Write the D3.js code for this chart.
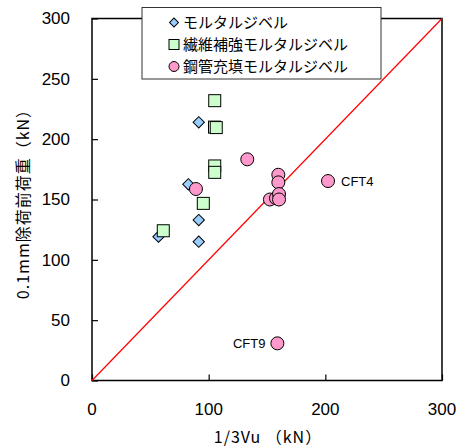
<!DOCTYPE html>
<html>
  <head>
    <meta charset="utf-8">
    <title>Scatter</title>
    <script src="https://d3js.org/d3.v7.min.js"></script>
    <style>
      html, body { margin: 0; padding: 0; background: #fff; overflow: hidden; }
      svg { display: block; }
      .axis .domain { display: none; }
      .axis .tick line { stroke: #000; stroke-width: 1.2px; }
      .tickLabel { font-family: "Liberation Sans", Arial, sans-serif; font-size: 17px; fill: #000; }
      .label { font-family: "Noto Sans CJK JP", sans-serif; font-size: 15px; fill: #000; }
      .title { font-family: "Noto Sans CJK JP", sans-serif; font-size: 16px; fill: #000; }
      .note { font-family: "Liberation Sans", Arial, sans-serif; font-size: 13px; fill: #000; }
    </style>
  </head>
  <body>
    <svg width="462" height="448"></svg>
    <script>
      // values
      const seriesNames = ["モルタルジベル", "繊維補強モルタルジベル", "鋼管充填モルタルジベル"];
      const mortar = [[91.5, 214], [82.6, 162.6], [91.5, 133], [91.5, 115], [57, 119.2]];
      const fiber = [[105.2, 231.9], [105, 210], [106.5, 209.6], [105.2, 177.8], [105.2, 172.5], [95.4, 146.8], [61.1, 124.1]];
      const steel = [[133.1, 183.3], [159.7, 170.5], [159.7, 164.2], [89.1, 158.7],
                     [152.5, 150], [157.7, 151], [160.3, 154.5], [160.3, 150],
                     [202.3, 165.3], [158.9, 30.8]];
      const notes = [{name: "CFT4", x: 202.3, y: 165.3, side: "right"},
                     {name: "CFT9", x: 158.9, y: 30.8, side: "left"}];
      const xTicks = [0, 100, 200, 300];
      const yTicks = [0, 50, 100, 150, 200, 250, 300];

      const margin = {top: 18.5, right: 20, bottom: 67.5, left: 92};
      const svg = d3.select("svg");
      const width = +svg.attr("width");
      const height = +svg.attr("height");
      const innerWidth = width - margin.left - margin.right;
      const innerHeight = height - margin.top - margin.bottom;

      const xScale = d3.scaleLinear().domain([0, 300]).range([0, innerWidth]);
      const yScale = d3.scaleLinear().domain([0, 300]).range([innerHeight, 0]);

      const g = svg.append("g").attr("transform", `translate(${margin.left}, ${margin.top})`);

      // inward ticks
      g.append("g").attr("class", "axis")
        .attr("transform", `translate(0, ${innerHeight})`)
        .call(d3.axisTop(xScale).tickValues(xTicks).tickSize(6))
        .selectAll("text").remove();
      g.append("g").attr("class", "axis")
        .call(d3.axisRight(yScale).tickValues(yTicks).tickSize(6))
        .selectAll("text").remove();

      // tick labels
      g.selectAll(".xLabel").data(xTicks).enter().append("text")
        .attr("class", "tickLabel xLabel")
        .attr("x", d => xScale(d))
        .attr("y", innerHeight + 34)
        .attr("text-anchor", "middle")
        .text(d => d);
      g.selectAll(".yLabel").data(yTicks).enter().append("text")
        .attr("class", "tickLabel yLabel")
        .attr("x", -22)
        .attr("y", d => yScale(d))
        .attr("dy", "0.35em")
        .attr("text-anchor", "end")
        .text(d => d);

      g.append("rect")
        .attr("width", innerWidth).attr("height", innerHeight)
        .attr("fill", "none").attr("stroke", "#000").attr("stroke-width", 1.5);

      g.append("line")
        .attr("x1", xScale(0)).attr("y1", yScale(0))
        .attr("x2", xScale(300)).attr("y2", yScale(300))
        .attr("stroke", "#ff0000").attr("stroke-width", 1.2);

      const diamond = d3.symbol().type(d3.symbolSquare).size(64);

      g.selectAll(".mortar").data(mortar).enter().append("path")
        .attr("class", "mortar")
        .attr("d", diamond)
        .attr("transform", d => `translate(${xScale(d[0])}, ${yScale(d[1])}) rotate(45)`)
        .attr("fill", "#99ccff").attr("stroke", "#000").attr("stroke-width", 1);

      g.selectAll(".fiber").data(fiber).enter().append("rect")
        .attr("class", "fiber")
        .attr("x", d => xScale(d[0]) - 6).attr("y", d => yScale(d[1]) - 6)
        .attr("width", 12).attr("height", 12)
        .attr("fill", "#ccffcc").attr("stroke", "#000").attr("stroke-width", 1);

      g.selectAll(".steel").data(steel).enter().append("circle")
        .attr("class", "steel")
        .attr("cx", d => xScale(d[0])).attr("cy", d => yScale(d[1]))
        .attr("r", 6.5)
        .attr("fill", "#ff99cc").attr("stroke", "#000").attr("stroke-width", 1);

      g.selectAll(".note").data(notes).enter().append("text")
        .attr("class", "note")
        .attr("x", d => xScale(d.x) + (d.side === "right" ? 13 : -12))
        .attr("y", d => yScale(d.y))
        .attr("dy", "0.35em")
        .attr("text-anchor", d => d.side === "right" ? "start" : "end")
        .text(d => d.name);

      // legend
      const legend = svg.append("g").attr("transform", "translate(142, 7.5)");
      legend.append("rect")
        .attr("width", 239).attr("height", 71.5)
        .attr("fill", "#fff").attr("stroke", "#333").attr("stroke-width", 1);
      const items = legend.selectAll(".item").data(seriesNames).enter().append("g")
        .attr("transform", (d, i) => `translate(32, ${15 + i * 22})`);
      items.filter((d, i) => i === 0).append("path")
        .attr("d", d3.symbol().type(d3.symbolSquare).size(40))
        .attr("transform", "rotate(45)")
        .attr("fill", "#99ccff").attr("stroke", "#000");
      items.filter((d, i) => i === 1).append("rect")
        .attr("x", -5).attr("y", -5).attr("width", 10).attr("height", 10)
        .attr("fill", "#ccffcc").attr("stroke", "#000");
      items.filter((d, i) => i === 2).append("circle")
        .attr("r", 5)
        .attr("fill", "#ff99cc").attr("stroke", "#000");
      items.append("text")
        .attr("class", "label")
        .attr("x", 9).attr("dy", "0.36em")
        .text(d => d);

      svg.append("text")
        .attr("class", "title")
        .attr("x", 268).attr("y", 443)
        .attr("text-anchor", "middle")
        .attr("letter-spacing", "1px")
        .text("1/3Vu （kN）");
      svg.append("text")
        .attr("class", "title")
        .attr("transform", "translate(29, 200) rotate(-90)")
        .attr("text-anchor", "middle")
        .attr("letter-spacing", "1px")
        .text("0.1mm除荷前荷重（kN）");
    </script>
  </body>
</html>
